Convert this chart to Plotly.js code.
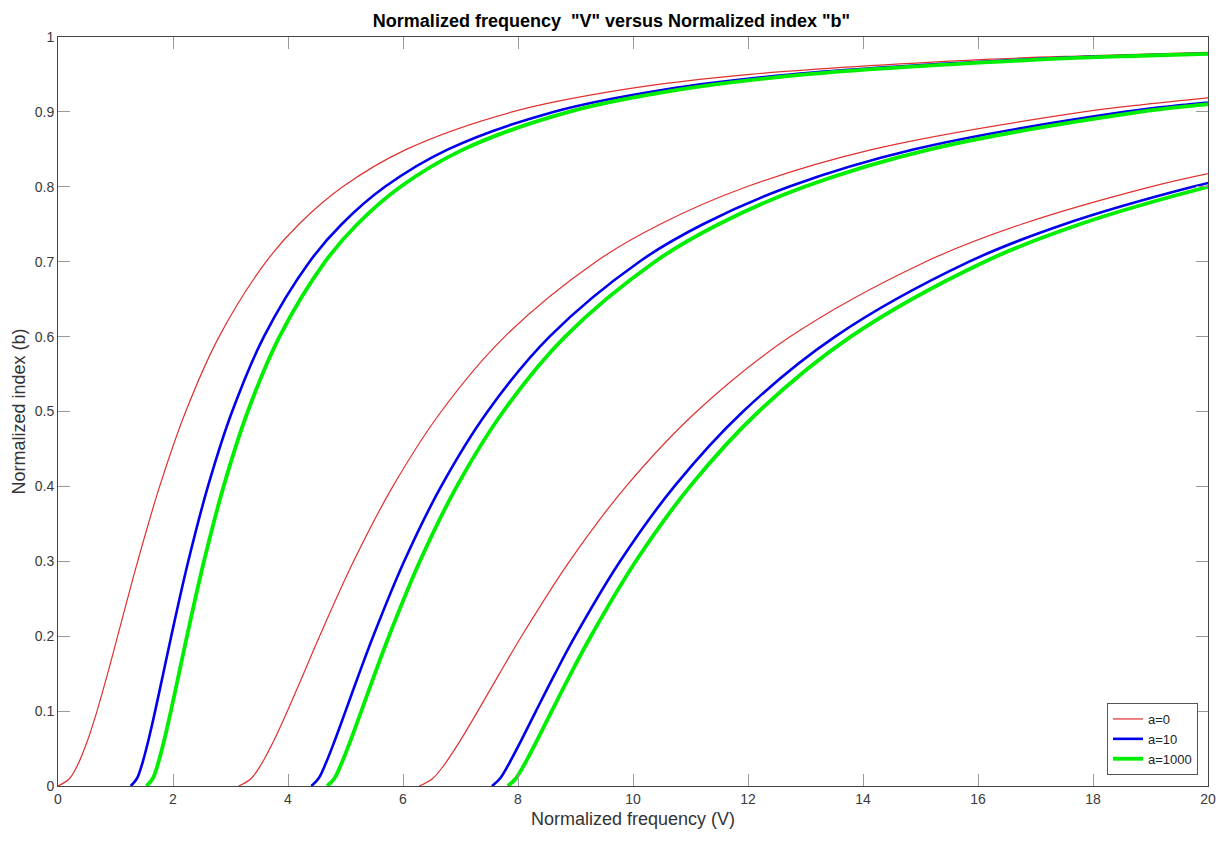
<!DOCTYPE html>
<html>
<head>
<meta charset="utf-8">
<script src="https://cdn.plot.ly/plotly-3.0.1.min.js"></script>
<style>html,body{margin:0;padding:0;background:#fff;}#chart{width:1223px;height:843px;}</style>
</head>
<body>
<div id="chart"></div>
<script>
// Normalized index b sampled along each mode family
const bMode0 = [0,0.01,0.03,0.06,0.1,0.15,0.2,0.3,0.4,0.5,0.6,0.7,0.75,0.8,0.85,0.9,0.93,0.95,0.97,0.975,0.98];
const bMode1 = [0,0.01,0.03,0.06,0.1,0.15,0.2,0.3,0.4,0.5,0.6,0.7,0.75,0.8,0.85,0.9,0.91,0.92];
const bMode2 = [0,0.01,0.03,0.06,0.1,0.15,0.2,0.3,0.4,0.5,0.6,0.7,0.75,0.8,0.82];

// Normalized frequency V read for each curve (a = 0, 10, 1000)
const vA0m0 = [0,0.2014,0.3535,0.5105,0.6783,0.8627,1.0368,1.3856,1.7679,2.2214,2.8020,3.6192,4.1888,4.9513,6.0579,7.8997,9.8474,12.0324,16.1275,17.861,20.2079];
const vA0m1 = [3.1416,3.3588,3.5433,3.7508,3.9898,4.2703,4.5491,5.1405,5.8237,6.6643,7.7693,9.3550,10.4720,11.9762,14.1694,17.8341,18.9127,20.184];
const vA0m2 = [6.2832,6.5162,6.7331,6.9911,7.3014,7.6778,8.0616,8.8954,9.8794,11.1071,12.7365,15.0908,16.7552,19.0011,20.149];

const vA10m0 = [1.2645,1.3732,1.4655,1.5694,1.6891,1.8296,1.9693,2.2655,2.6075,3.0283,3.5813,4.3746,4.9333,5.6857,6.7825,8.6151,10.5588,12.7392,16.8308,18.5638,20.9097];
const vA10m1 = [4.4061,4.5306,4.6553,4.8097,5.0007,5.2372,5.4817,6.0204,6.6633,7.4712,8.5486,10.1104,11.2165,12.7105,14.8940,18.5496,19.68,20.8977];
const vA10m2 = [7.5477,7.6880,7.8451,8.0500,8.3122,8.6447,8.9941,9.7753,10.7191,11.9140,13.5158,15.8461,17.4997,19.7354,20.8794];

const vA1000m0 = [1.5392,1.6478,1.7400,1.8438,1.9633,2.1035,2.2430,2.5386,2.8803,3.3005,3.8530,4.6459,5.2044,5.9565,7.0531,8.8855,10.8290,13.0093,17.1009,18.8338,21.1797];
const vA1000m1 = [4.6808,4.8052,4.9298,5.0841,5.2749,5.5111,5.7554,6.2936,6.9360,7.7434,8.8203,10.3816,11.4876,12.9814,15.1646,18.8200,19.96,21.1680];
const vA1000m2 = [7.8224,7.9626,8.1196,8.3244,8.5864,8.9186,9.2678,10.0485,10.9918,12.1862,13.7876,16.1174,17.7708,20.0063,21.1502];

const seriesNames = ['a=0','a=10','a=1000'];
const xTicks = [0,2,4,6,8,10,12,14,16,18,20];
const yTicks = [0,0.1,0.2,0.3,0.4,0.5,0.6,0.7,0.8,0.9,1];
const yTickText = ['0','0.1','0.2','0.3','0.4','0.5','0.6','0.7','0.8','0.9','1'];

const styles = [
  {color:'#e0302f', width:1.2},
  {color:'#0000ee', width:2.6},
  {color:'#00ee00', width:3.8}
];
const groups = [
  [[vA0m0,bMode0],[vA0m1,bMode1],[vA0m2,bMode2]],
  [[vA10m0,bMode0],[vA10m1,bMode1],[vA10m2,bMode2]],
  [[vA1000m0,bMode0],[vA1000m1,bMode1],[vA1000m2,bMode2]]
];
const traces = [];
groups.forEach((g,gi)=>{
  g.forEach((pair,mi)=>{
    traces.push({
      x: pair[0], y: pair[1], type:'scatter', mode:'lines',
      name: seriesNames[gi], legendgroup: seriesNames[gi], showlegend: mi===0,
      line: {color: styles[gi].color, width: styles[gi].width, shape:'spline', smoothing:1},
      hoverinfo:'skip'
    });
  });
});

const fontFam = '"Liberation Sans", Arial, Helvetica, sans-serif';
const axisCommon = {
  showgrid:false, zeroline:false, showline:true, linecolor:'#444', linewidth:1,
  mirror:'ticks', ticks:'inside', ticklen:12, tickcolor:'#999', tickwidth:1,
  tickfont:{family:fontFam, size:14, color:'#3a3a3a'}
};
const layout = {
  width:1223, height:843,
  margin:{l:58, r:15, t:37, b:57, pad:0},
  paper_bgcolor:'#fff', plot_bgcolor:'#fff',
  font:{family:fontFam, color:'#333'},
  title:{text:'<b>Normalized frequency  "V" versus Normalized index "b"</b>', font:{family:fontFam, size:18, color:'#000'}, x:0.5, xanchor:'center', y:0.976, yanchor:'middle'},
  xaxis: Object.assign({}, axisCommon, {range:[0,20], tickvals:xTicks, ticktext:xTicks.map(String),
    title:{text:'Normalized frequency (V)', font:{family:fontFam, size:18, color:'#333'}, standoff:6}}),
  yaxis: Object.assign({}, axisCommon, {range:[0,1], tickvals:yTicks, ticktext:yTickText,
    title:{text:'Normalized index (b)', font:{family:fontFam, size:18, color:'#333'}, standoff:4}}),
  legend:{x:0.9913, xanchor:'right', y:0.0147, yanchor:'bottom', bgcolor:'#fff', bordercolor:'#555', borderwidth:1,
    font:{family:fontFam, size:13, color:'#222'}, tracegroupgap:0},
  showlegend:true
};
Plotly.newPlot('chart', traces, layout, {displayModeBar:false, staticPlot:true});
</script>
</body>
</html>
